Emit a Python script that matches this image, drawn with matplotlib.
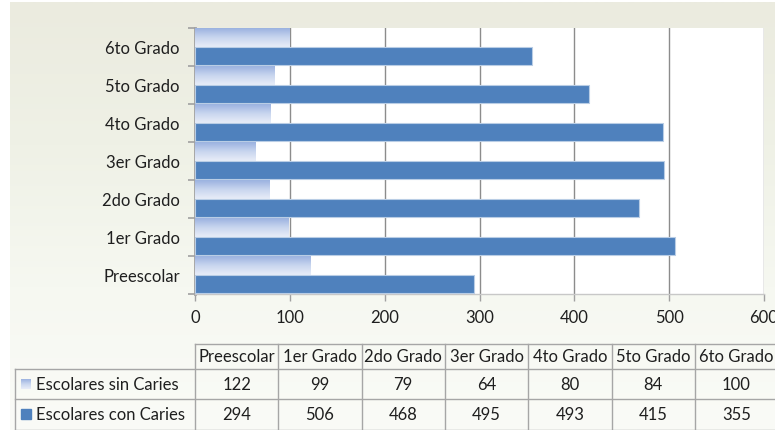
import numpy as np
import matplotlib.pyplot as plt
from matplotlib.colors import LinearSegmentedColormap

plt.rcParams['font.family'] = ['Lato', 'DejaVu Sans']

grados = ['Preescolar', '1er Grado', '2do Grado', '3er Grado', '4to Grado', '5to Grado', '6to Grado']
sin_caries = [122, 99, 79, 64, 80, 84, 100]
con_caries = [294, 506, 468, 495, 493, 415, 355]
series = ['Escolares sin Caries', 'Escolares con Caries']

W, H = 775, 431
fig = plt.figure(figsize=(W / 100, H / 100), dpi=100, facecolor='white')

# background gradient
bg = fig.add_axes([10 / W, 0, 1 - 10 / W, 1 - 3 / H])
bg_cmap = LinearSegmentedColormap.from_list('bg', ['#EBEBDF', '#EFF1E6', '#F6F8F1', '#FAFBF7'])
bg.imshow(np.linspace(0, 1, 256).reshape(-1, 1), cmap=bg_cmap, aspect='auto', extent=[0, 1, 0, 1])
bg.axis('off')

# main chart
ax = fig.add_axes([195 / W, (H - 295) / H, (764 - 195) / W, (295 - 29) / H])
ax.set_facecolor('white')
y = np.arange(len(grados))
h = 0.48
light_cmap = LinearSegmentedColormap.from_list('light', ['#9BB2E0', '#C9D6EF', '#E8EDF8'])
grad = np.linspace(0, 1, 64).reshape(-1, 1)
for i, v in enumerate(sin_caries):
    top = i + 0.5 - 0.01
    ax.imshow(grad, cmap=light_cmap, aspect='auto', extent=[0, v, top - h, top], zorder=3)
ax.barh(y - 0.24 + 0.01, con_caries, height=h, color='#4F81BD', edgecolor='#B9CDE5', linewidth=0.8, zorder=3)

ax.set_xlim(0, 600)
ax.set_ylim(-0.5, len(grados) - 0.5)
ax.set_xticks(range(0, 601, 100))
ax.set_yticks(y)
ax.set_yticklabels(grados)
ax.set_yticks(np.arange(-0.5, len(grados)), minor=True)
ax.tick_params(axis='y', which='major', length=0, pad=11, labelsize=12, labelcolor='#1F1F1F')
ax.tick_params(axis='y', which='minor', length=5, color='#A0A0A0', width=1.2)
ax.tick_params(axis='x', length=5, color='#A0A0A0', width=1, pad=6, labelsize=12, labelcolor='#1F1F1F')
ax.grid(axis='x', color='#8C8C8C', linewidth=1, zorder=1)
ax.set_axisbelow(True)
for s in ['top', 'right']:
    ax.spines[s].set_visible(False)
ax.spines['left'].set_color('#A0A0A0')
ax.spines['left'].set_linewidth(2)
ax.spines['bottom'].set_color('#C8C8C8')
ax.spines['bottom'].set_linewidth(1)

# data table
tb = fig.add_axes([0, 0, 1, 1])
tb.set_xlim(0, W)
tb.set_ylim(H, 0)
tb.axis('off')
lc = '#A6A6A6'
x0, xl, cw = 195, 15, 83.3
rows = [345, 370, 400, 431]
ncol = len(grados)
xr = x0 + ncol * cw
tb.plot([x0, xr], [rows[0], rows[0]], color=lc, lw=1)
for r in rows[1:]:
    tb.plot([xl, xr], [r, r], color=lc, lw=1)
tb.plot([xl, xl], [rows[1], rows[3]], color=lc, lw=1)
for j in range(ncol + 1):
    tb.plot([x0 + j * cw] * 2, [rows[0], rows[3]], color=lc, lw=1)
for j, g in enumerate(grados):
    xc = x0 + (j + 0.5) * cw
    tb.text(xc, (rows[0] + rows[1]) / 2, g, ha='center', va='center', fontsize=12, color='#1F1F1F')
    tb.text(xc, (rows[1] + rows[2]) / 2, str(sin_caries[j]), ha='center', va='center', fontsize=12, color='#1F1F1F')
    tb.text(xc, (rows[2] + rows[3]) / 2, str(con_caries[j]), ha='center', va='center', fontsize=12, color='#1F1F1F')
for k, name in enumerate(series):
    yc = (rows[k + 1] + rows[k + 2]) / 2
    if k == 0:
        tb.imshow(grad, cmap=light_cmap, aspect='auto', extent=[21, 31, yc + 5, yc - 5], zorder=3)
    else:
        tb.add_patch(plt.Rectangle((21, yc - 5), 10, 10, color='#4F81BD', zorder=3))
    tb.text(36, yc, name, ha='left', va='center', fontsize=12, color='#1F1F1F')
tb.set_xlim(0, W)
tb.set_ylim(H, 0)

fig.savefig('out.png', dpi=100, facecolor=fig.get_facecolor())
